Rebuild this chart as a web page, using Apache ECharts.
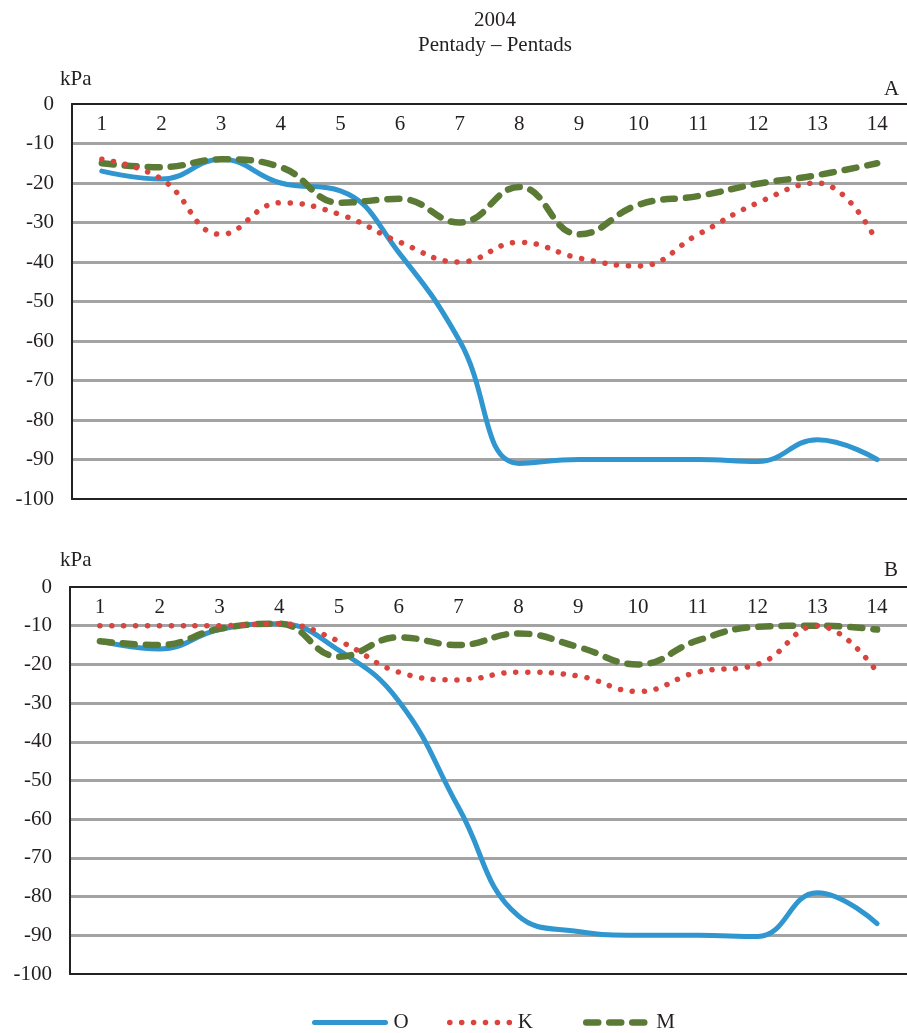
<!DOCTYPE html>
<html>
<head>
<meta charset="utf-8">
<script src="https://cdn.jsdelivr.net/npm/echarts@6/dist/echarts.min.js"></script>
<style>
  html, body { margin: 0; padding: 0; background: #fff; }
  #chart { width: 907px; height: 1033px; }
</style>
</head>
<body>
<div id="chart"></div>
<script>
const pentads = ['1','2','3','4','5','6','7','8','9','10','11','12','13','14'];
const seriesNames = ['O', 'K', 'M'];

// Panel A
const aO = [-17, -19, -14, -20, -22, -38, -60, -91, -90, -90, -90, -90.5, -85, -90];
const aK = [-14, -19, -33, -25, -28, -35, -40, -35, -39, -41, -33, -25, -20, -35];
const aM = [-15, -16, -14, -16, -25, -24, -30, -21, -33, -25.5, -23.3, -20.2, -18, -15];

// Panel B
const bO = [-14, -16, -11, -9.5, -16.4, -29.5, -57, -85, -89, -90, -90, -90.3, -79, -87];
const bK = [-10, -10, -10, -9.5, -14, -22, -24, -22, -23, -27, -22, -20, -10, -22];
const bM = [-14, -15, -10.8, -9.5, -18, -13, -15, -12, -15.5, -20, -13.8, -10.3, -10, -11];

const FONT = '"Liberation Serif", "DejaVu Serif", serif';
const TXT = '#231f20';
const COLORS = { O: '#3096d0', K: '#d9443f', M: '#5b7a35' };
const LINE_STYLES = {
  O: { color: COLORS.O, width: 5, type: 'solid', cap: 'round' },
  K: { color: COLORS.K, width: 5.5, type: [0.1, 11.8], cap: 'round' },
  M: { color: COLORS.M, width: 6.5, type: [12, 11], cap: 'round' }
};

const chart = echarts.init(document.getElementById('chart'), null, { renderer: 'canvas' });

const grids = [
  { left: 72, right: 0, top: 104, height: 395 },
  { left: 70, right: 0, top: 587, height: 387 }
];

function topAxis(gi) {
  return {
    type: 'category', gridIndex: gi, position: 'top', data: pentads, boundaryGap: true,
    axisLine: { show: true, onZero: false, lineStyle: { color: '#222', width: 2 } },
    axisTick: { show: false },
    axisLabel: { inside: true, margin: 10, fontFamily: FONT, fontSize: 21, color: TXT },
    splitLine: { show: false }
  };
}
function bottomAxis(gi) {
  return {
    type: 'category', gridIndex: gi, position: 'bottom', data: pentads, boundaryGap: true,
    axisLine: { show: true, onZero: false, lineStyle: { color: '#222', width: 2 } },
    axisTick: { show: false }, axisLabel: { show: false }, splitLine: { show: false }
  };
}
function yAxis(gi) {
  return {
    type: 'value', gridIndex: gi, min: -100, max: 0, interval: 10,
    axisLine: { show: true, lineStyle: { color: '#222', width: 2 } },
    axisTick: { show: false },
    axisLabel: { margin: 18, fontFamily: FONT, fontSize: 21, color: TXT },
    splitLine: { show: true, showMinLine: false, showMaxLine: false,
      lineStyle: { color: '#a3a3a3', width: 3 } }
  };
}

function mkSeries(name, data, gi) {
  return {
    name: name, type: 'line', data: data, xAxisIndex: gi * 2, yAxisIndex: gi,
    smooth: 0.45, symbol: 'none', showSymbol: false, color: COLORS[name],
    z: name === 'O' ? 4 : (name === 'K' ? 6 : 5),
    lineStyle: LINE_STYLES[name]
  };
}

function mkLegend(name, left, width, pad) {
  return {
    data: [name], left: left, top: 1007, itemWidth: width, itemHeight: 12, itemGap: 0,
    itemStyle: { opacity: 0 },
    lineStyle: { width: 'inherit', type: 'inherit', cap: 'round' },
    textStyle: { fontFamily: FONT, fontSize: 21, color: TXT, padding: [0, 0, 0, pad] }
  };
}

const option = {
  animation: false,
  backgroundColor: '#ffffff',
  title: [
    { text: '2004', left: 490, top: 5, textAlign: 'center',
      textStyle: { fontFamily: FONT, fontSize: 21, fontWeight: 'normal', color: TXT } },
    { text: 'Pentady – Pentads', left: 490, top: 30, textAlign: 'center',
      textStyle: { fontFamily: FONT, fontSize: 21, fontWeight: 'normal', color: TXT } },
    { text: 'kPa', left: 55, top: 64,
      textStyle: { fontFamily: FONT, fontSize: 21, fontWeight: 'normal', color: TXT } },
    { text: 'A', left: 879, top: 74,
      textStyle: { fontFamily: FONT, fontSize: 21, fontWeight: 'normal', color: TXT } },
    { text: 'kPa', left: 55, top: 545,
      textStyle: { fontFamily: FONT, fontSize: 21, fontWeight: 'normal', color: TXT } },
    { text: 'B', left: 879, top: 555,
      textStyle: { fontFamily: FONT, fontSize: 21, fontWeight: 'normal', color: TXT } }
  ],
  legend: [
    mkLegend('O', 307, 71, 3),
    mkLegend('K', 442, 63, 0),
    mkLegend('M', 578, 62, 3)
  ],
  grid: grids,
  xAxis: [topAxis(0), bottomAxis(0), topAxis(1), bottomAxis(1)],
  yAxis: [yAxis(0), yAxis(1)],
  series: [
    mkSeries('O', aO, 0), mkSeries('K', aK, 0), mkSeries('M', aM, 0),
    mkSeries('O', bO, 1), mkSeries('K', bK, 1), mkSeries('M', bM, 1)
  ]
};
chart.setOption(option);
</script>
</body>
</html>
